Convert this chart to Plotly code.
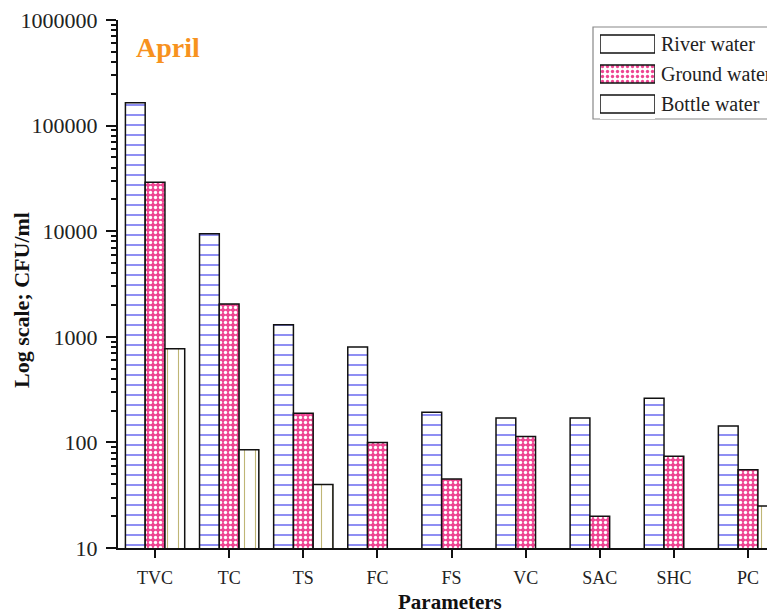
import plotly.graph_objects as go

# ---------------- data ----------------
categories = ["TVC", "TC", "TS", "FC", "FS", "VC", "SAC", "SHC", "PC"]
series_names = ["River water", "Ground water", "Bottle water"]
river_water = [165000, 9450, 1300, 800, 193, 170, 170, 262, 143]
ground_water = [29000, 2050, 189, 100, 45, 114, 20, 74, 55]
bottle_water = [770, 85, 40, None, None, None, None, None, 25]

y_tickvals = [10, 100, 1000, 10000, 100000, 1000000]
y_ticktext = ["10", "100", "1000", "10000", "100000", "1000000"]
y_minor_vals = [m * 10 ** e for e in range(1, 6) for m in range(2, 10)]

# ---------------- styles ----------------
FONT = "Liberation Serif"
PINK = "#ee4592"
BLUE = "#6a6af0"
KHAKI = "#bfb676"

styles = {
    "River water": dict(shape="-", fg=BLUE, bg="white", size=10, sol=0.15),
    "Ground water": dict(shape=".", fg="white", bg=PINK, size=5, sol=0.35),
    "Bottle water": dict(shape="|", fg=KHAKI, bg="white", size=11, sol=0.1),
}

fig = go.Figure()
for name, vals in zip(series_names, [river_water, ground_water, bottle_water]):
    st = styles[name]
    fig.add_trace(go.Bar(
        x=categories, y=vals, name=name, showlegend=False,
        marker=dict(
            color=st["bg"],
            line=dict(color="#111", width=1.5),
            pattern=dict(shape=st["shape"], fgcolor=st["fg"], bgcolor=st["bg"],
                         size=st["size"], solidity=st["sol"], fillmode="replace"),
        ),
        xaxis="x", yaxis="y",
    ))

# custom legend swatches (drawn on a small auxiliary axis)
fig.add_trace(go.Bar(
    y=series_names, x=[1, 1, 1], orientation="h", width=0.6,
    showlegend=False, hoverinfo="skip",
    marker=dict(
        color=[styles[n]["bg"] for n in series_names],
        line=dict(color="#111", width=1.5),
        pattern=dict(shape=[styles[n]["shape"] for n in series_names],
                     fgcolor=[styles[n]["fg"] for n in series_names],
                     bgcolor=[styles[n]["bg"] for n in series_names],
                     size=[styles[n]["size"] for n in series_names],
                     solidity=[styles[n]["sol"] for n in series_names],
                     fillmode="replace"),
    ),
    xaxis="x4", yaxis="y4",
))

# page has an 8px body margin: figure is drawn from page (8, 8)
OFF = 8
W, H = 775 - OFF, 616 - OFF
L, R, T = 118 - OFF, 0, 20 - OFF
B = H - (548 - OFF)
pw, ph = W - L - R, H - T - B


def px_x(p):  # page pixel -> paper x
    return (p - OFF - L) / pw


def px_y(p):  # page pixel -> paper y
    return (H - B - (p - OFF)) / ph


fig.update_layout(
    width=W, height=H,
    margin=dict(l=L, r=R, t=T, b=B),
    paper_bgcolor="white", plot_bgcolor="white",
    barmode="group", bargap=0.2, bargroupgap=0,
    showlegend=False,
    xaxis=dict(
        type="category", range=[-0.5, 8.364],
        showline=True, linecolor="#111", linewidth=2,
        ticks="outside", ticklen=8, tickwidth=2, tickcolor="#111",
        ticklabelstandoff=4,
        showgrid=False, zeroline=False,
        tickfont=dict(family=FONT, size=18, color="#222"),
    ),
    xaxis3=dict(
        overlaying="x", anchor="y", side="bottom", range=[-0.5, 8.364],
        tickvals=[i + 0.5 for i in range(len(categories) - 1)],
        ticks="outside", ticklen=5, tickwidth=2, tickcolor="#111",
        showticklabels=False, showgrid=False, zeroline=False, showline=False,
    ),
    yaxis=dict(
        type="log", range=[1, 6],
        tickvals=y_tickvals, ticktext=y_ticktext,
        showline=True, linecolor="#111", linewidth=2,
        ticks="outside", ticklen=10, tickwidth=2, tickcolor="#111",
        ticklabeloverflow="allow", ticklabelstandoff=4,
        minor=dict(tickvals=y_minor_vals, ticks="outside", ticklen=5,
                   tickwidth=1.5, tickcolor="#111", showgrid=False),
        showgrid=False, zeroline=False,
        tickfont=dict(family=FONT, size=22, color="#222"),
    ),
    xaxis4=dict(domain=[px_x(600), px_x(655)], anchor="y4", range=[0, 1],
                visible=False, fixedrange=True),
    yaxis4=dict(domain=[px_y(119), px_y(29)], anchor="x4", range=[2.5, -0.5],
                type="category", visible=False, fixedrange=True),
)

# legend frame
fig.add_shape(type="rect", xref="paper", yref="paper",
              x0=px_x(593), x1=px_x(800), y0=px_y(119), y1=px_y(27),
              line=dict(color="#888", width=1.2), fillcolor="rgba(0,0,0,0)",
              layer="below")
for i, name in enumerate(series_names):
    fig.add_annotation(text=name, xref="paper", yref="paper",
                       x=px_x(659), y=px_y(44 + 30 * i), xanchor="left",
                       yanchor="middle", showarrow=False,
                       font=dict(family=FONT, size=20, color="#222"))

# texts
fig.add_annotation(text="<b>April</b>", xref="paper", yref="paper",
                   x=px_x(134), y=px_y(47), xanchor="left", yanchor="middle",
                   showarrow=False, font=dict(family=FONT, size=28, color="#f7921e"))
fig.add_annotation(text="<b>Parameters</b>", xref="paper", yref="paper",
                   x=px_x(450), y=px_y(602), xanchor="center", yanchor="middle",
                   showarrow=False, font=dict(family=FONT, size=21, color="#111"))
fig.add_annotation(text="<b>Log scale; CFU/ml</b>", xref="paper", yref="paper",
                   x=px_x(21), y=px_y(300), xanchor="center", yanchor="middle",
                   textangle=-90, showarrow=False,
                   font=dict(family=FONT, size=22, color="#111"))

fig.write_html("out.html")
